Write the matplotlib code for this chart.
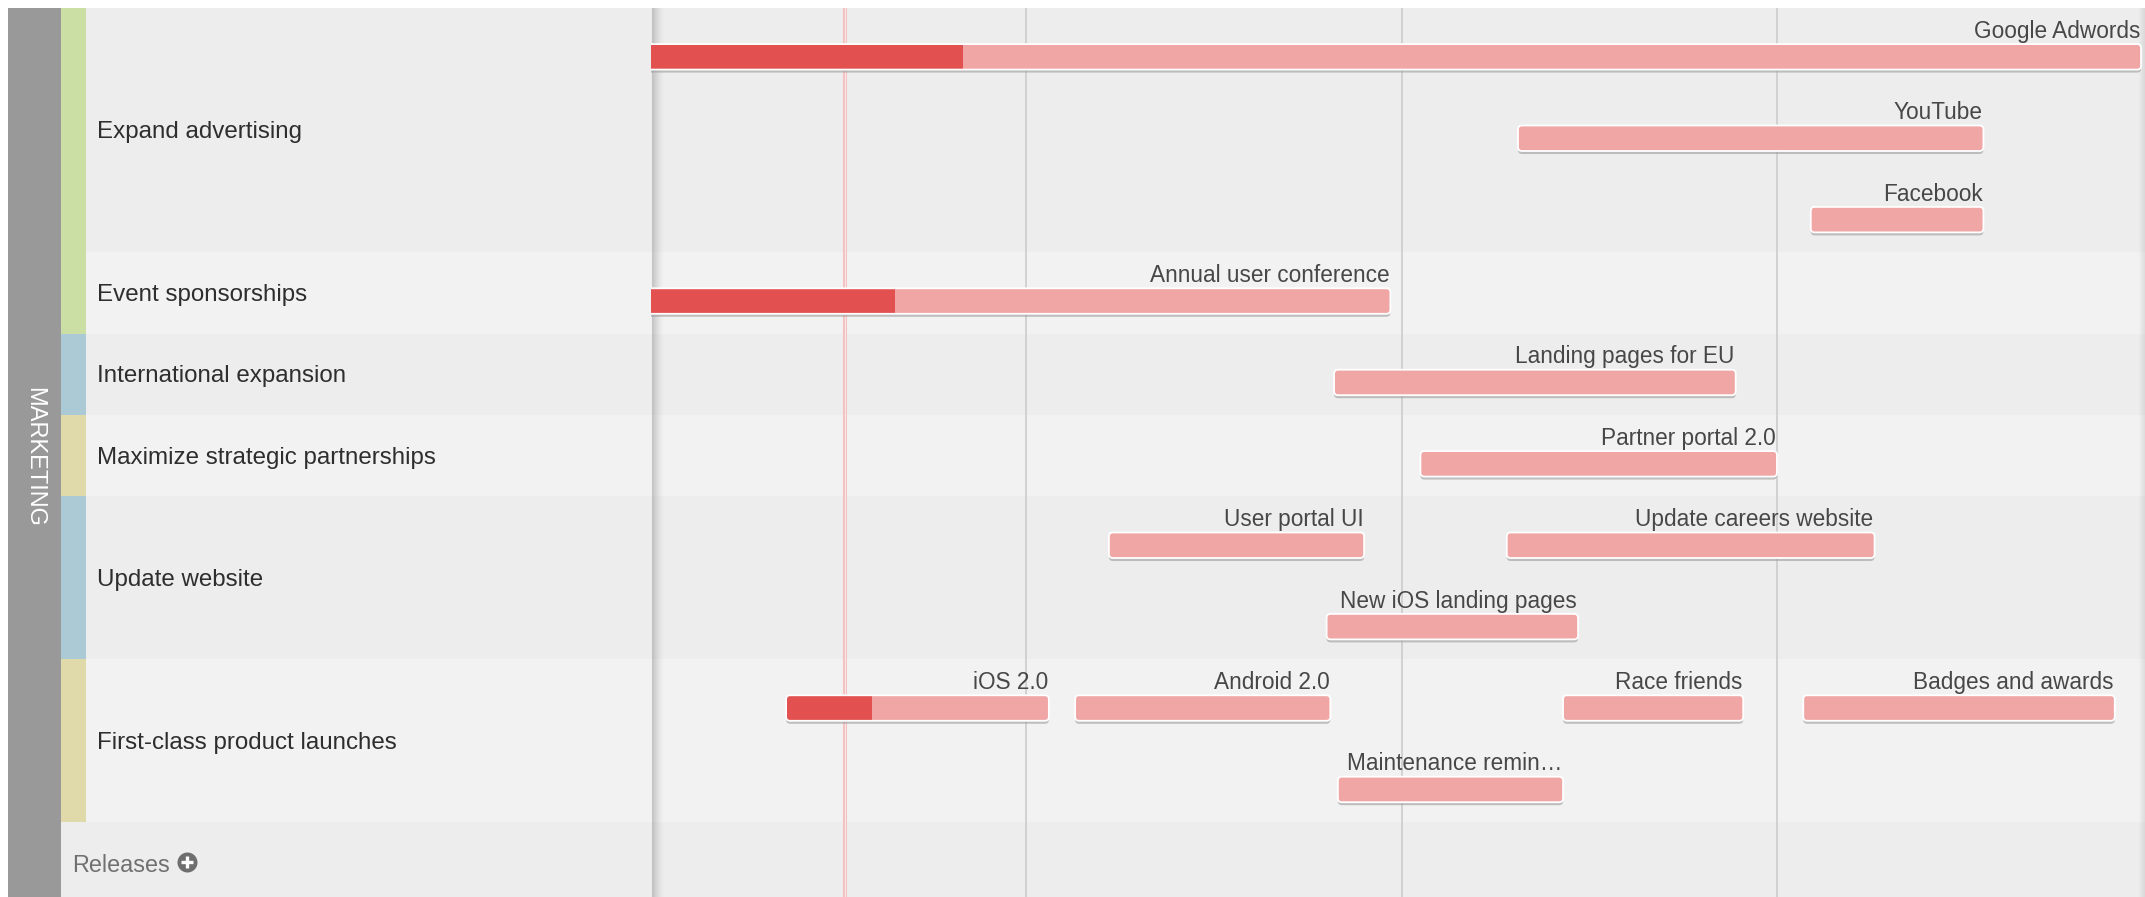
import matplotlib
matplotlib.use("Agg")
import matplotlib.pyplot as plt
from matplotlib.patches import FancyBboxPatch, Rectangle
import numpy as np

plt.rcParams["font.family"] = ["Liberation Sans", "DejaVu Sans"]

# ---- data ----
department = "MARKETING"
groups = [
    "Expand advertising",
    "Event sponsorships",
    "International expansion",
    "Maximize strategic partnerships",
    "Update website",
    "First-class product launches",
]
group_lanes = [3, 1, 1, 1, 2, 2]
group_colors = ["#cbdfa4", "#cbdfa4", "#abcad6", "#e0d9a9", "#abcad6", "#e0d9a9"]
footer_label = "Releases"

tasks = [
    "Google Adwords", "YouTube", "Facebook", "Annual user conference",
    "Landing pages for EU", "Partner portal 2.0", "User portal UI",
    "Update careers website", "New iOS landing pages", "iOS 2.0",
    "Android 2.0", "Race friends", "Badges and awards", "Maintenance remin\u2026",
]
task_group = [0, 0, 0, 1, 2, 3, 4, 4, 4, 5, 5, 5, 5, 5]
task_lane = [0, 1, 2, 0, 0, 0, 0, 0, 1, 0, 0, 0, 0, 1]
# time in months from the left edge of the visible window
task_start = [-0.50, 2.31, 3.09, -0.30, 1.82, 2.05, 1.22, 2.28, 1.80, 0.36, 1.13, 2.43, 3.07, 1.83]
task_end = [3.97, 3.55, 3.55, 1.97, 2.89, 3.00, 1.90, 3.26, 2.47, 1.06, 1.81, 2.91, 3.90, 2.43]
task_done = [0.83, None, None, 0.65, None, None, None, None, None, 0.59, None, None, None, None]

month_lines = [1, 2, 3]
today = 0.517

# ---- layout (pixels) ----
W, H = 2145, 897
TOP = 8
COL_LEFT, STRIPE_LEFT, PANEL_LEFT, PANEL_END = 8, 61, 86, 651
SLOT_PX = 81.4
PX_PER_MONTH = 375.33
BAR_PX = 25.5
LIGHT, DARK = "#f1a6a6", "#e25050"
BG = ["#ededed", "#f2f2f2"]

n_slots = sum(group_lanes)
total_rows = (H - TOP) / SLOT_PX
group_top = np.concatenate([[0], np.cumsum(group_lanes)[:-1]])

fig = plt.figure(figsize=(W / 100, H / 100), dpi=100)
fig.patch.set_facecolor("white")

# ---- chart area ----
ax = fig.add_axes([PANEL_END / W, 0, (W - PANEL_END) / W, (H - TOP) / H])
ax.set_xlim(0, (W - PANEL_END) / PX_PER_MONTH)
ax.set_ylim(total_rows, 0)
ax.axis("off")

for i, (top, lanes) in enumerate(zip(group_top, group_lanes)):
    ax.axhspan(top, top + lanes, color=BG[i % 2], lw=0, zorder=0)
ax.axhspan(n_slots, total_rows, color=BG[len(groups) % 2], lw=0, zorder=0)

for m in month_lines:
    ax.axvline(m, color="#c9c9c9", lw=1.1, zorder=1)

# inner shadows on the left and right edge
for k in range(12):
    ax.axvline((k + 0.5) / PX_PER_MONTH, color="#8f8f8f",
               alpha=0.45 * (1 - k / 12) ** 1.6, lw=0.75, zorder=1.2)
xmax = (W - PANEL_END) / PX_PER_MONTH
for k in range(7):
    ax.axvline(xmax - (k + 0.5) / PX_PER_MONTH, color="#a0a0a0",
               alpha=0.25 * (1 - k / 7), lw=0.75, zorder=1.2)

ax.axvline(today, color="#f4c2c2", lw=2.9, zorder=1.5)
ax.axvline(today, color="white", lw=0.7, alpha=0.6, zorder=1.6)

h = BAR_PX / SLOT_PX
rnd = 4 / PX_PER_MONTH
aspect = PX_PER_MONTH / SLOT_PX
style = f"round,pad=0,rounding_size={rnd}"
for name, g, lane, s, e, d in zip(tasks, task_group, task_lane, task_start, task_end, task_done):
    yc = group_top[g] + lane + 0.6
    y0 = yc - h / 2
    shadow = FancyBboxPatch((s, y0 + 3 / SLOT_PX), e - s, h, boxstyle=style,
                            mutation_aspect=aspect, fc="#9c9c9c", ec="none",
                            alpha=0.6, zorder=2)
    ax.add_patch(shadow)
    bar = FancyBboxPatch((s, y0), e - s, h, boxstyle=style, mutation_aspect=aspect,
                         fc=LIGHT, ec="none", zorder=3)
    ax.add_patch(bar)
    if d is not None:
        done = Rectangle((s, y0), d - s, h, fc=DARK, ec="none", zorder=3.5)
        ax.add_patch(done)
        done.set_clip_path(bar)
    edge = FancyBboxPatch((s, y0), e - s, h, boxstyle=style, mutation_aspect=aspect,
                          fill=False, ec="white", lw=1.3, zorder=4)
    ax.add_patch(edge)
    ax.text(e - 1 / PX_PER_MONTH, group_top[g] + lane + 0.365, name, ha="right",
            va="baseline", fontsize=16.3, color="#474747", zorder=5)

# ---- left label panel ----
lx = fig.add_axes([COL_LEFT / W, 0, (PANEL_END - COL_LEFT) / W, (H - TOP) / H])
lx.set_xlim(COL_LEFT, PANEL_END)
lx.set_ylim(total_rows, 0)
lx.axis("off")

lx.axvspan(COL_LEFT, STRIPE_LEFT, color="#999999", lw=0)
for i, (name, top, lanes, col) in enumerate(zip(groups, group_top, group_lanes, group_colors)):
    lx.add_patch(Rectangle((STRIPE_LEFT, top), PANEL_LEFT - STRIPE_LEFT, lanes, fc=col, ec="none"))
    lx.add_patch(Rectangle((PANEL_LEFT, top), PANEL_END - PANEL_LEFT, lanes, fc=BG[i % 2], ec="none"))
    lx.text(97, top + lanes / 2 + 8 / SLOT_PX, name, ha="left", va="baseline",
            fontsize=17.4, color="#2e2e2e")

lx.add_patch(Rectangle((STRIPE_LEFT, n_slots), PANEL_END - STRIPE_LEFT, total_rows - n_slots,
                       fc=BG[len(groups) % 2], ec="none"))
lx.text(72, n_slots + 50 / SLOT_PX, footer_label, ha="left", va="baseline",
        fontsize=16.8, color="#707070")
lx.plot([187], [n_slots + 40 / SLOT_PX], marker="o", ms=14.4, color="#6e6e6e", mec="none")
lx.plot([187], [n_slots + 40 / SLOT_PX], marker="+", ms=8.5, mew=2.4, color="white")

lx.text((COL_LEFT + STRIPE_LEFT) / 2, total_rows / 2 + 0.05, department, rotation=270,
        ha="center", va="center", fontsize=17, color="white")

fig.savefig("out.png", dpi=100)
